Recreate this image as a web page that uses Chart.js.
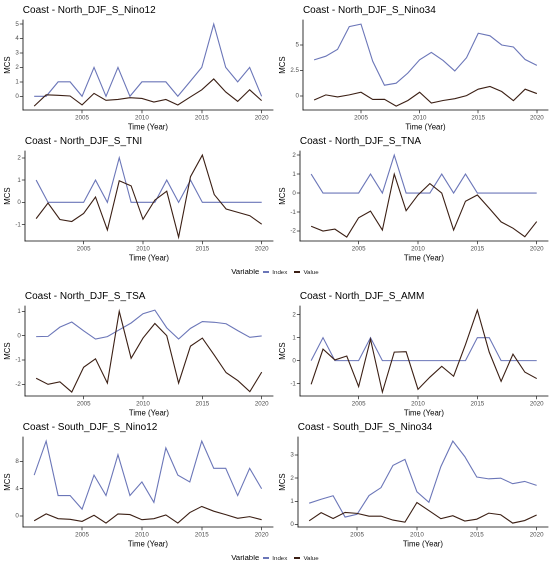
<!DOCTYPE html>
<html><head><meta charset="utf-8">
<script src="https://cdn.jsdelivr.net/npm/chart.js@4.4.1/dist/chart.umd.min.js"></script>
<style>
html,body{margin:0;padding:0;background:#fff;width:550px;height:565px;overflow:hidden;font-family:"Liberation Sans",Arial,sans-serif;}
.p{position:absolute;width:275px;height:131px;}
.p canvas{width:275px;height:131px;}
.legend{position:absolute;left:0;width:550px;height:14px;display:flex;justify-content:center;align-items:center;color:#000;line-height:1;}
.legend .t{font-size:7.8px;margin-right:4px;}
.legend .k{display:inline-block;width:6px;height:1.2px;margin-right:3px;}
.legend .l{font-size:6.2px;margin-right:7px;color:#222;}
</style>
</head><body>
<div class="p" style="left:0;top:0"><canvas id="c1"></canvas></div>
<div class="p" style="left:275px;top:0"><canvas id="c2"></canvas></div>
<div class="p" style="left:0;top:131px"><canvas id="c3"></canvas></div>
<div class="p" style="left:275px;top:131px"><canvas id="c4"></canvas></div>
<div class="legend" style="top:265px"><span class="t">Variable</span><span class="k" style="background:#6b76b8"></span><span class="l">Index</span><span class="k" style="background:#3b1f14"></span><span class="l" style="margin-right:0">Value</span></div>
<div class="p" style="left:0;top:286px"><canvas id="c5"></canvas></div>
<div class="p" style="left:275px;top:286px"><canvas id="c6"></canvas></div>
<div class="p" style="left:0;top:417px"><canvas id="c7"></canvas></div>
<div class="p" style="left:275px;top:417px"><canvas id="c8"></canvas></div>
<div class="legend" style="top:551px"><span class="t">Variable</span><span class="k" style="background:#6b76b8"></span><span class="l">Index</span><span class="k" style="background:#3b1f14"></span><span class="l" style="margin-right:0">Value</span></div>
<script>
const years = [2001,2002,2003,2004,2005,2006,2007,2008,2009,2010,2011,2012,2013,2014,2015,2016,2017,2018,2019,2020];
const xTicks = [2005,2010,2015,2020];

const nNino12Index = [0,0,1,1,0,2,0,2,0,1,1,1,0,1,2,5,2,1,2,0];
const nNino12Value = [-0.68,0.1,0.07,0.02,-0.6,0.2,-0.28,-0.22,-0.1,-0.15,-0.4,-0.22,-0.6,-0.07,0.45,1.2,0.3,-0.35,0.45,-0.3];
const nNino12Ticks = [0,1,2,3,4,5];

const nNino34Index = [3.54,3.9,4.57,6.8,7.05,3.4,1.05,1.25,2.25,3.55,4.27,3.48,2.45,3.75,6.15,5.9,5.0,4.8,3.57,3.0];
const nNino34Value = [-0.4,0.1,-0.1,0.1,0.36,-0.35,-0.33,-1.0,-0.45,0.36,-0.7,-0.45,-0.27,0.03,0.66,0.93,0.43,-0.47,0.66,0.23];
const nNino34Ticks = [0,2.5,5];

const nTniIndex = [1,0,0,0,0,1,0,2,0,0,0,1,0,1,0,0,0,0,0,0];
const nTniValue = [-0.73,-0.03,-0.77,-0.86,-0.5,0.24,-1.24,0.97,0.74,-0.76,0.1,0.5,-1.56,1.15,2.12,0.35,-0.3,-0.45,-0.6,-0.98];
const nTniTicks = [-1,0,1,2];

const nTnaIndex = [1,0,0,0,0,1,0,2,0,0,0,1,0,1,0,0,0,0,0,0];
const nTnaValue = [-1.75,-2.0,-1.9,-2.32,-1.3,-0.95,-1.95,1.0,-0.93,-0.1,0.5,0.0,-1.95,-0.43,-0.1,-0.8,-1.52,-1.85,-2.3,-1.5];
const nTnaTicks = [-2,-1,0,1,2];

const nTsaIndex = [-0.04,-0.03,0.35,0.56,0.2,-0.14,-0.04,0.24,0.52,0.9,1.05,0.32,-0.14,0.3,0.58,0.55,0.49,0.2,-0.07,-0.01];
const nTsaValue = [-1.75,-2.0,-1.9,-2.32,-1.3,-0.95,-1.95,1.0,-0.93,-0.1,0.5,0.0,-1.95,-0.43,-0.1,-0.8,-1.52,-1.85,-2.3,-1.5];
const nTsaTicks = [-2,-1,0,1];

const nAmmIndex = [0,1,0,0,0,1,0,0,0,0,0,0,0,0,1,1,0,0,0,0];
const nAmmValue = [-1.03,0.5,0.03,0.2,-1.13,0.93,-1.37,0.37,0.39,-1.25,-0.72,-0.25,-0.68,0.7,2.2,0.37,-0.9,0.28,-0.5,-0.78];
const nAmmTicks = [-1,0,1,2];

const sNino12Index = [6,11,3,3,1,6,3,9,3,5,2,10,6,5,11,7,7,3,7,4];
const sNino12Value = [-0.7,0.3,-0.4,-0.5,-0.8,0.1,-1.05,0.3,0.2,-0.55,-0.4,0.15,-1.05,0.5,1.4,0.7,0.2,-0.35,-0.1,-0.55];
const sNino12Ticks = [0,4,8];

const sNino34Index = [0.92,1.09,1.24,0.32,0.44,1.25,1.59,2.55,2.81,1.41,0.96,2.5,3.6,2.93,2.05,1.97,2.0,1.76,1.86,1.69];
const sNino34Value = [0.16,0.51,0.26,0.52,0.48,0.36,0.36,0.19,0.1,0.95,0.6,0.25,0.38,0.15,0.23,0.49,0.42,0.06,0.17,0.41];
const sNino34Ticks = [0,1,2,3];

const INDEX_COLOR = '#6b76b8';
const VALUE_COLOR = '#3b1f14';
const FONT = '"Liberation Sans", Arial, sans-serif';

const titlePlugin = {
  id: 'ptitle',
  afterDraw(chart, args, opts) {
    const ctx = chart.ctx;
    ctx.save();
    ctx.font = '10px ' + FONT;
    ctx.fillStyle = '#000';
    ctx.textBaseline = 'middle';
    ctx.textAlign = 'left';
    ctx.fillText(opts.text, chart.chartArea.left, 10);
    ctx.restore();
  }
};

function makeChart(id, title, idx, val, yTicks) {
  const all = idx.concat(val);
  const lo = Math.min(...all), hi = Math.max(...all);
  const r = hi - lo;
  const axisCommon = {
    border: { display: true, color: '#000', width: 0.8 },
    grid: { drawOnChartArea: false, drawTicks: true, tickLength: 3, color: '#333', lineWidth: 0.8 },
  };
  new Chart(document.getElementById(id), {
    type: 'line',
    data: {
      datasets: [
        { label: 'Index', data: years.map((y, i) => ({ x: y, y: idx[i] })), borderColor: INDEX_COLOR, borderWidth: 1.1, pointRadius: 0, tension: 0, order: 2 },
        { label: 'Value', data: years.map((y, i) => ({ x: y, y: val[i] })), borderColor: VALUE_COLOR, borderWidth: 1.1, pointRadius: 0, tension: 0, order: 1 }
      ]
    },
    options: {
      responsive: false,
      animation: false,
      devicePixelRatio: 2,
      layout: { padding: { top: 20, left: 3, right: 2, bottom: 5 } },
      plugins: { legend: { display: false }, tooltip: { enabled: false }, ptitle: { text: title } },
      scales: {
        x: Object.assign({}, axisCommon, {
          type: 'linear', min: 2000.05, max: 2020.95,
          afterBuildTicks: s => { s.ticks = xTicks.map(v => ({ value: v })); },
          ticks: { font: { size: 6.2, family: FONT }, color: '#4d4d4d', padding: 1, maxRotation: 0, callback: v => String(v) },
          title: { display: true, text: 'Time (Year)', font: { size: 7.8, family: FONT }, color: '#000', padding: { top: 0, bottom: 0 } }
        }),
        y: Object.assign({}, axisCommon, {
          type: 'linear', min: lo - 0.05 * r, max: hi + 0.05 * r,
          afterBuildTicks: s => { s.ticks = yTicks.map(v => ({ value: v })); },
          ticks: { font: { size: 6.2, family: FONT }, color: '#4d4d4d', padding: 1, callback: v => String(v) },
          title: { display: true, text: 'MCS', font: { size: 7.8, family: FONT }, color: '#000', padding: { top: 0, bottom: 2 } }
        })
      }
    },
    plugins: [titlePlugin]
  });
}

makeChart('c1', 'Coast - North_DJF_S_Nino12', nNino12Index, nNino12Value, nNino12Ticks);
makeChart('c2', 'Coast - North_DJF_S_Nino34', nNino34Index, nNino34Value, nNino34Ticks);
makeChart('c3', 'Coast - North_DJF_S_TNI', nTniIndex, nTniValue, nTniTicks);
makeChart('c4', 'Coast - North_DJF_S_TNA', nTnaIndex, nTnaValue, nTnaTicks);
makeChart('c5', 'Coast - North_DJF_S_TSA', nTsaIndex, nTsaValue, nTsaTicks);
makeChart('c6', 'Coast - North_DJF_S_AMM', nAmmIndex, nAmmValue, nAmmTicks);
makeChart('c7', 'Coast - South_DJF_S_Nino12', sNino12Index, sNino12Value, sNino12Ticks);
makeChart('c8', 'Coast - South_DJF_S_Nino34', sNino34Index, sNino34Value, sNino34Ticks);
</script>
</body></html>
